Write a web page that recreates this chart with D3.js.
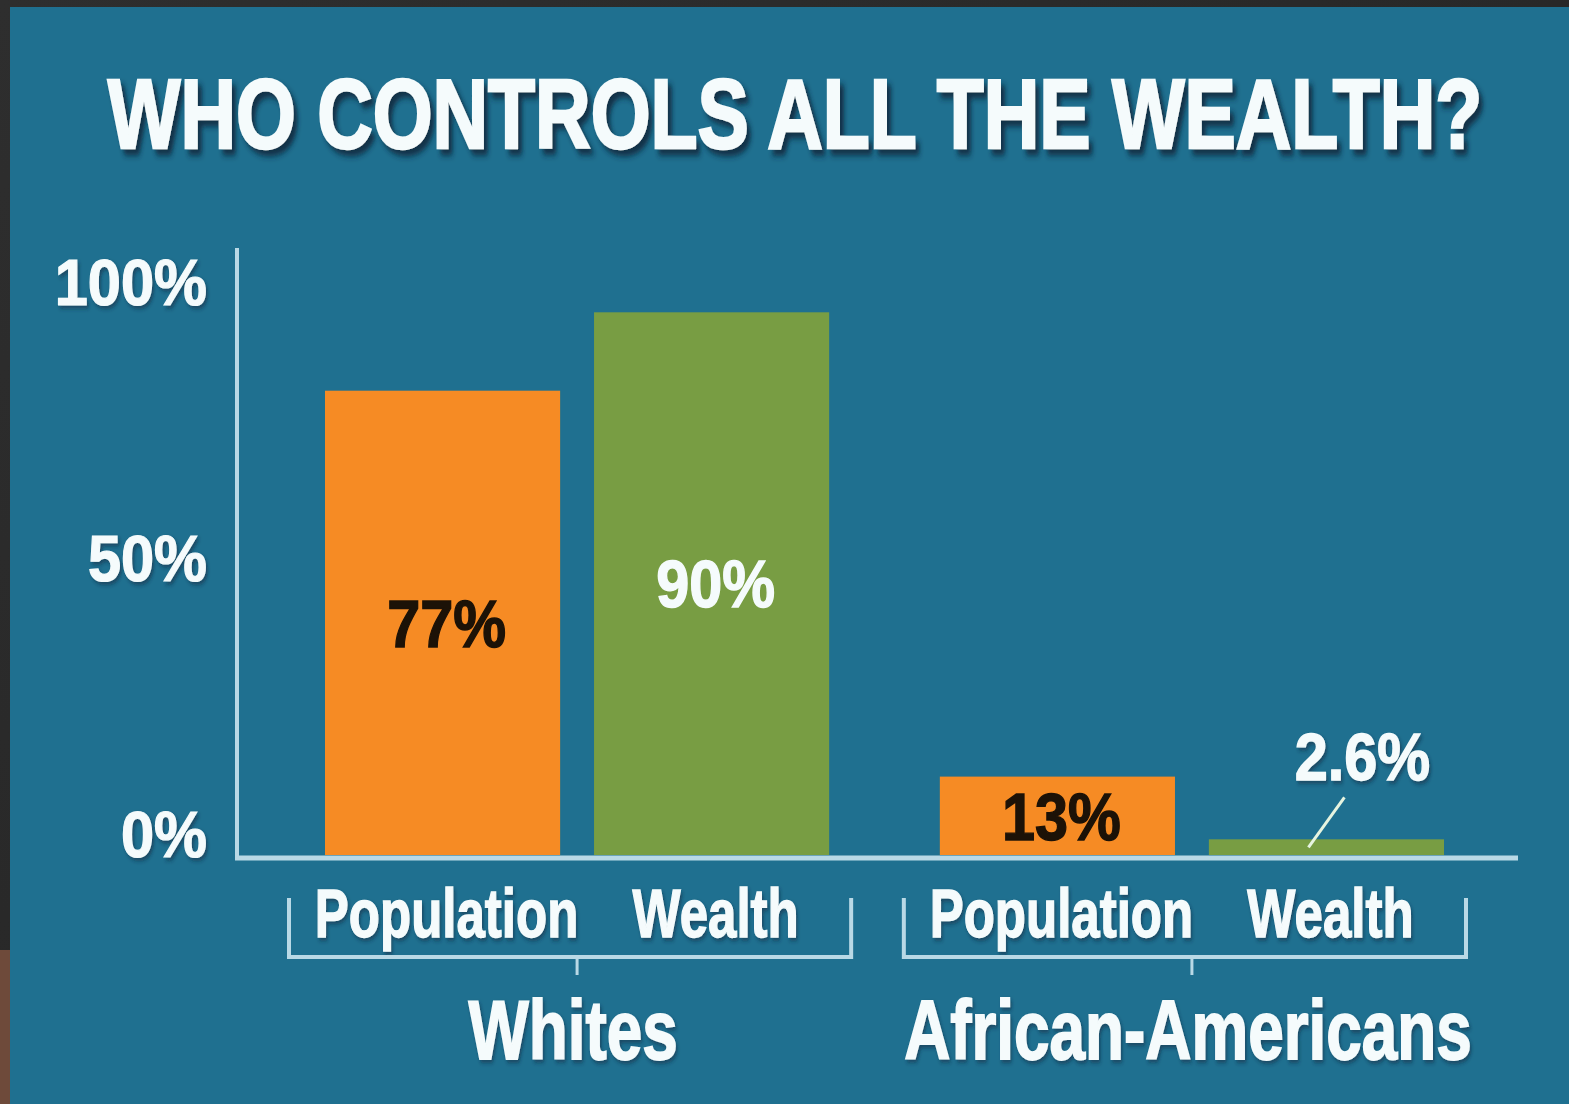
<!DOCTYPE html>
<html>
<head>
<meta charset="utf-8">
<script src="https://cdn.jsdelivr.net/npm/d3@7"></script>
<style>
  html, body { margin: 0; padding: 0; background: #2a2a2a; }
  svg { display: block; }
  text { font-family: "Liberation Sans", Arial, sans-serif; font-weight: 700; }
</style>
</head>
<body>
<svg id="chart" width="1569" height="1104"></svg>
<script>
// Share of US population and of household wealth, by group
const groups = ["Whites", "African-Americans"];
const measures = ["Population", "Wealth"];
const populationShare = [77, 13];
const wealthShare = [90, 2.6];
const yTickValues = [0, 50, 100];
const yTickLabels = ["0%", "50%", "100%"];
const titleText = "WHO CONTROLS ALL THE WEALTH?";

const rows = groups.flatMap((g, i) => [
  { group: g, measure: measures[0], value: populationShare[i] },
  { group: g, measure: measures[1], value: wealthShare[i] }
]);

const W = 1569, H = 1104;
const bg = "#1f7090";
const axisColor = "#b9d9e6";
const textWhite = "#f5fbfc";
const barColor = { Population: "#f68b24", Wealth: "#789d43" };
const valueColor = { Population: "#1c1207", Wealth: "#f5fbfc" };

const svg = d3.select("#chart");

// Squeeze glyphs horizontally around the text anchor to mimic a heavy condensed face
function condense(sel, k) {
  sel.each(function () {
    const t = d3.select(this);
    const x = +t.attr("x") || 0, y = +t.attr("y") || 0;
    t.attr("x", 0).attr("y", 0)
      .attr("transform", `translate(${x},${y}) scale(${k},1)`);
  });
}

const defs = svg.append("defs");
const frameGrad = defs.append("linearGradient").attr("id", "frameGrad")
  .attr("x1", 0).attr("y1", 0).attr("x2", 1).attr("y2", 1);
frameGrad.append("stop").attr("offset", "0%").attr("stop-color", "#2e2e2e");
frameGrad.append("stop").attr("offset", "100%").attr("stop-color", "#222");

const titleShadow = defs.append("filter").attr("id", "titleShadow")
  .attr("x", "-5%").attr("y", "-30%").attr("width", "115%").attr("height", "170%");
titleShadow.append("feDropShadow").attr("dx", 5).attr("dy", 6).attr("stdDeviation", 3)
  .attr("flood-color", "#08263a").attr("flood-opacity", 0.85);

const softShadow = defs.append("filter").attr("id", "softShadow")
  .attr("x", "-10%").attr("y", "-30%").attr("width", "125%").attr("height", "170%");
softShadow.append("feDropShadow").attr("dx", 2).attr("dy", 3).attr("stdDeviation", 2)
  .attr("flood-color", "#0a2a3c").attr("flood-opacity", 0.55);

// Outer frame and panel
svg.append("rect").attr("width", W).attr("height", H).attr("fill", "url(#frameGrad)");
svg.append("rect").attr("x", 0).attr("y", 950).attr("width", 10).attr("height", H - 950).attr("fill", "#6e4a3a");
svg.append("rect").attr("x", 10).attr("y", 7).attr("width", W - 10).attr("height", H - 7).attr("fill", bg);

// Title
svg.append("text")
  .attr("x", 795).attr("y", 148)
  .attr("text-anchor", "middle")
  .attr("font-size", 98)
  .attr("fill", textWhite)
  .attr("stroke", textWhite).attr("stroke-width", 2.6)
  .attr("filter", "url(#titleShadow)")
  .text(titleText)
  .call(condense, 0.785);

// Scales
const axisX = 237, baseY = 858;
const y = d3.scaleLinear().domain([0, 100]).range([855, 252]);
const yLabel = d3.scaleLinear().domain([0, 100]).range([857, 305]);
const x0 = d3.scaleBand().domain(groups).range([325, 1444]).paddingInner(0.18);
const x1 = d3.scaleBand().domain(measures).range([0, x0.bandwidth()]).paddingInner(0.126);

// Bars
svg.append("g").selectAll("rect").data(rows).join("rect")
  .attr("x", d => x0(d.group) + x1(d.measure))
  .attr("width", x1.bandwidth())
  .attr("y", d => y(d.value))
  .attr("height", d => y(0) - y(d.value))
  .attr("fill", d => barColor[d.measure]);

// Axis lines
const yAxis = d3.axisLeft(y).tickValues([]).tickSizeOuter(0);
svg.append("g").attr("transform", `translate(${axisX},0)`).call(yAxis)
  .call(g => g.select(".domain").attr("d", `M0,${y(100) - 4}V${baseY}`)
    .attr("stroke", axisColor).attr("stroke-width", 4));
svg.append("line")
  .attr("x1", axisX - 2).attr("x2", 1518)
  .attr("y1", baseY).attr("y2", baseY)
  .attr("stroke", axisColor).attr("stroke-width", 5);

// Y tick labels
svg.append("g").selectAll("text").data(yTickValues).join("text")
  .attr("x", 207)
  .attr("y", d => yLabel(d))
  .attr("text-anchor", "end")
  .attr("font-size", 64)
  .attr("fill", textWhite)
  .attr("stroke", textWhite).attr("stroke-width", 1.2)
  .attr("filter", "url(#softShadow)")
  .text((d, i) => yTickLabels[i])
  .call(condense, 0.93);

// Value labels
const minInside = 40;
const valG = svg.append("g");
rows.forEach(d => {
  const cx = x0(d.group) + x1(d.measure) + x1.bandwidth() / 2;
  const h = y(0) - y(d.value);
  if (h >= minInside) {
    valG.append("text")
      .attr("x", cx + 4)
      .attr("y", y(d.value / 2))
      .attr("dy", "0.36em")
      .attr("text-anchor", "middle")
      .attr("font-size", 66)
      .attr("fill", valueColor[d.measure])
      .attr("stroke", valueColor[d.measure]).attr("stroke-width", 1.4)
      .text(d.value + "%")
      .call(condense, 0.9);
  } else {
    // Small bar: label sits above with a leader line
    const top = y(d.value);
    valG.append("line")
      .attr("x1", cx - 18).attr("y1", top + 8)
      .attr("x2", cx + 18).attr("y2", top - 42)
      .attr("stroke", "#e6f4e0").attr("stroke-width", 3);
    valG.append("text")
      .attr("x", cx + 36)
      .attr("y", top - 59)
      .attr("text-anchor", "middle")
      .attr("font-size", 66)
      .attr("fill", textWhite)
      .attr("stroke", textWhite).attr("stroke-width", 1.4)
      .attr("filter", "url(#softShadow)")
      .text(d.value + "%")
      .call(condense, 0.9);
  }
});

// Measure labels under each bar
svg.append("g").selectAll("text").data(rows).join("text")
  .attr("x", d => x0(d.group) + x1(d.measure) + x1.bandwidth() / 2 + 4)
  .attr("y", 937)
  .attr("text-anchor", "middle")
  .attr("font-size", 68)
  .attr("fill", textWhite)
  .attr("stroke", textWhite).attr("stroke-width", 1.4)
  .attr("filter", "url(#softShadow)")
  .text(d => d.measure)
  .call(condense, 0.75);

// Group brackets
const brG = svg.append("g").attr("fill", "none").attr("stroke", axisColor).attr("stroke-width", 4);
groups.forEach(g => {
  const a = x0(g) - 36, b = x0(g) + x0.bandwidth() + 22, c = x0(g) + x0.bandwidth() / 2;
  brG.append("path").attr("d", `M${a},898V957H${b}V898`);
  brG.append("path").attr("d", `M${c},957V975`).attr("stroke-width", 3);
});

// Group labels
svg.append("g").selectAll("text").data(groups).join("text")
  .attr("x", d => x0(d) + x0.bandwidth() / 2 - 4)
  .attr("y", 1059)
  .attr("text-anchor", "middle")
  .attr("font-size", 84)
  .attr("fill", textWhite)
  .attr("stroke", textWhite).attr("stroke-width", 1.8)
  .attr("filter", "url(#softShadow)")
  .text(d => d)
  .call(condense, 0.76);
</script>
</body>
</html>
